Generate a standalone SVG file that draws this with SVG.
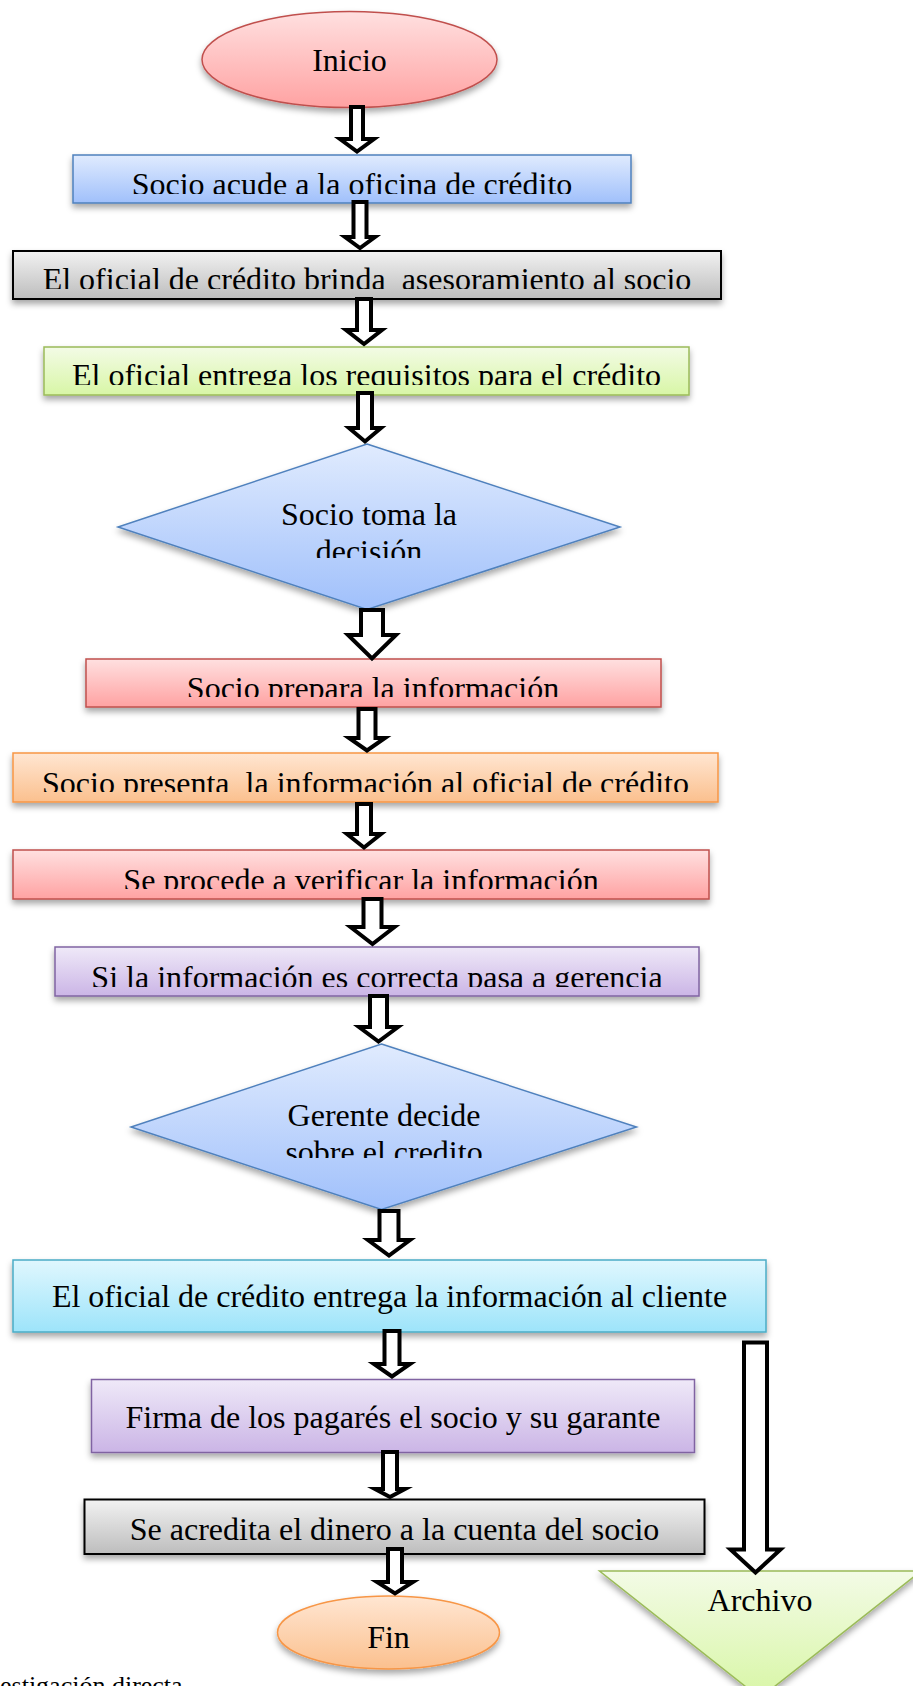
<svg xmlns="http://www.w3.org/2000/svg" width="913" height="1686" viewBox="0 0 913 1686">
  <defs>
    <style>
      text { font-family: "Liberation Serif", "Times New Roman", serif; font-size: 32px; fill: #000; text-anchor: middle; }
      .pre { white-space: pre; }
      .foot { font-size: 26px; text-anchor: start; }
      .shape { filter: url(#shadow); }
      .red { fill: url(#gRed); stroke: #c0504d; stroke-width: 1.5; }
      .blue { fill: url(#gBlue); stroke: #4f81bd; stroke-width: 1.5; }
      .gray { fill: url(#gGray); stroke: #000; stroke-width: 2; }
      .green { fill: url(#gGreen); stroke: #9bbb59; stroke-width: 1.5; }
      .orange { fill: url(#gOrange); stroke: #f79646; stroke-width: 1.5; }
      .purple { fill: url(#gPurple); stroke: #8064a2; stroke-width: 1.5; }
      .cyan { fill: url(#gCyan); stroke: #4bacc6; stroke-width: 1.5; }
      .arrow { fill: #fff; stroke: #000; stroke-width: 4; stroke-linejoin: miter; stroke-miterlimit: 10; }
    </style>
    <filter id="shadow" x="-10%" y="-20%" width="120%" height="160%">
      <feDropShadow dx="0" dy="4" stdDeviation="3" flood-color="#000" flood-opacity="0.35"/>
    </filter>
    <linearGradient id="gRed" x1="0" y1="0" x2="0" y2="1">
      <stop offset="0" stop-color="#ffe0e0"/>
      <stop offset="1" stop-color="#ffa2a2"/>
    </linearGradient>
    <linearGradient id="gBlue" x1="0" y1="0" x2="0" y2="1">
      <stop offset="0" stop-color="#e0ebfe"/>
      <stop offset="1" stop-color="#a0c0fb"/>
    </linearGradient>
    <linearGradient id="gGray" x1="0" y1="0" x2="0" y2="1">
      <stop offset="0" stop-color="#f2f2f2"/>
      <stop offset="1" stop-color="#bdbdbd"/>
    </linearGradient>
    <linearGradient id="gGreen" x1="0" y1="0" x2="0" y2="1">
      <stop offset="0" stop-color="#f3fbe6"/>
      <stop offset="1" stop-color="#d8f6a6"/>
    </linearGradient>
    <linearGradient id="gOrange" x1="0" y1="0" x2="0" y2="1">
      <stop offset="0" stop-color="#ffe6d2"/>
      <stop offset="1" stop-color="#fbc08e"/>
    </linearGradient>
    <linearGradient id="gPurple" x1="0" y1="0" x2="0" y2="1">
      <stop offset="0" stop-color="#efe9f8"/>
      <stop offset="1" stop-color="#cbb5e6"/>
    </linearGradient>
    <linearGradient id="gCyan" x1="0" y1="0" x2="0" y2="1">
      <stop offset="0" stop-color="#e0f7fe"/>
      <stop offset="1" stop-color="#9de4fa"/>
    </linearGradient>
    <!-- text areas of the boxes: overflowing lines are cut at the bottom -->
    <clipPath id="c1"><rect x="73" y="155" width="558" height="39"/></clipPath>
    <clipPath id="c2"><rect x="13" y="251" width="708" height="38"/></clipPath>
    <clipPath id="c3"><rect x="44" y="347" width="645" height="38"/></clipPath>
    <clipPath id="cd1"><rect x="118" y="444" width="502" height="114"/></clipPath>
    <clipPath id="c4"><rect x="86" y="659" width="575" height="38"/></clipPath>
    <clipPath id="c5"><rect x="13" y="753" width="705" height="39"/></clipPath>
    <clipPath id="c6"><rect x="13" y="850" width="696" height="39"/></clipPath>
    <clipPath id="c7"><rect x="55" y="947" width="644" height="40"/></clipPath>
    <clipPath id="cd2"><rect x="131" y="1044" width="506" height="114"/></clipPath>
  </defs>

  <rect width="913" height="1686" fill="#fff"/>

  <g id="inicio">
    <ellipse class="shape red" cx="349.5" cy="59.5" rx="147.5" ry="48"/>
    <text x="349.5" y="71">Inicio</text>
  </g>

  <g id="socio-acude">
    <rect class="shape blue" x="73" y="155" width="558" height="48"/>
    <text x="352" y="195" clip-path="url(#c1)">Socio acude a la oficina de crédito</text>
  </g>

  <g id="asesoramiento">
    <rect class="shape gray" x="13" y="251" width="708" height="48"/>
    <text class="pre" x="367" y="290" clip-path="url(#c2)">El oficial de crédito brinda  asesoramiento al socio</text>
  </g>

  <g id="requisitos">
    <rect class="shape green" x="44" y="347" width="645" height="48"/>
    <text x="366.5" y="386" clip-path="url(#c3)">El oficial entrega los requisitos para el crédito</text>
  </g>

  <g id="decision-socio">
    <polygon class="shape blue" points="367,444 620,527 367,609.5 118,527"/>
    <g clip-path="url(#cd1)">
      <text x="369" y="525">Socio toma la</text>
      <text x="369" y="561.8">decisión</text>
    </g>
  </g>

  <g id="prepara">
    <rect class="shape red" x="86" y="659" width="575" height="48"/>
    <text x="373" y="699" clip-path="url(#c4)">Socio prepara la información</text>
  </g>

  <g id="presenta">
    <rect class="shape orange" x="13" y="753" width="705" height="49"/>
    <text class="pre" x="365.5" y="794" clip-path="url(#c5)">Socio presenta  la información al oficial de crédito</text>
  </g>

  <g id="verificar">
    <rect class="shape red" x="13" y="850" width="696" height="49"/>
    <text x="361" y="890.5" clip-path="url(#c6)">Se procede a verificar la información</text>
  </g>

  <g id="gerencia">
    <rect class="shape purple" x="55" y="947" width="644" height="49"/>
    <text x="377" y="988" clip-path="url(#c7)">Si la información es correcta pasa a gerencia</text>
  </g>

  <g id="decision-gerente">
    <polygon class="shape blue" points="381.5,1044 636.5,1127 381.5,1209.5 131,1127"/>
    <g clip-path="url(#cd2)">
      <text x="384" y="1126">Gerente decide</text>
      <text x="384" y="1162.8">sobre el credito</text>
    </g>
  </g>

  <g id="entrega-cliente">
    <rect class="shape cyan" x="13" y="1260" width="753" height="72"/>
    <text x="389.5" y="1306.5">El oficial de crédito entrega la información al cliente</text>
  </g>

  <g id="firma">
    <rect class="shape purple" x="91.5" y="1379.5" width="603" height="73"/>
    <text x="393" y="1428">Firma de los pagarés el socio y su garante</text>
  </g>

  <g id="acredita">
    <rect class="shape gray" x="84.5" y="1499.5" width="620" height="54.5"/>
    <text x="394.5" y="1539.5">Se acredita el dinero a la cuenta del socio</text>
  </g>

  <g id="fin">
    <ellipse class="shape orange" cx="388.5" cy="1632.5" rx="111" ry="36.5"/>
    <text x="388.5" y="1648">Fin</text>
  </g>

  <g id="archivo">
    <polygon class="shape green" points="599.5,1571 921,1571 760,1698"/>
    <text x="760" y="1610.5">Archivo</text>
  </g>

  <g id="nota">
    <text class="foot" x="0" y="1694">estigación directa</text>
  </g>

  <!-- block arrows between the steps -->
  <g id="connectors">
    <path class="arrow" d="M351,107 H363 V139 H374 L357,151.5 L340,139 H351 Z"/>
    <path class="arrow" d="M353.5,202 H366.5 V237 H375 L360,248 L345,237 H353.5 Z"/>
    <path class="arrow" d="M357,299 H371 V330 H382 L364,344 L346,330 H357 Z"/>
    <path class="arrow" d="M358,393 H372 V428 H381 L365,441.5 L349,428 H358 Z"/>
    <path class="arrow" d="M361,610 H383 V635 H396 L372,658.5 L348,635 H361 Z"/>
    <path class="arrow" d="M358.5,709 H375.5 V738 H385 L367,750.5 L349,738 H358.5 Z"/>
    <path class="arrow" d="M357,804 H371 V834 H381 L364,847.5 L347,834 H357 Z"/>
    <path class="arrow" d="M363.5,899 H381.5 V927 H394.5 L372.5,944 L350.5,927 H363.5 Z"/>
    <path class="arrow" d="M370,996 H387 V1027 H398 L378.5,1041.5 L359,1027 H370 Z"/>
    <path class="arrow" d="M379.5,1211 H398.5 V1240 H410 L389,1255.5 L368,1240 H379.5 Z"/>
    <path class="arrow" d="M384.5,1331 H399.5 V1364 H410 L392,1376.5 L374,1364 H384.5 Z"/>
    <path class="arrow" d="M383,1452 H397 V1489 H405 L390,1497 L375,1489 H383 Z"/>
    <path class="arrow" d="M388,1549 H402 V1582 H413 L395,1593.5 L377,1582 H388 Z"/>
    <path class="arrow" d="M744,1342.5 H767 V1549.5 H780.5 L755.5,1572.5 L730.5,1549.5 H744 Z"/>
  </g>
</svg>
